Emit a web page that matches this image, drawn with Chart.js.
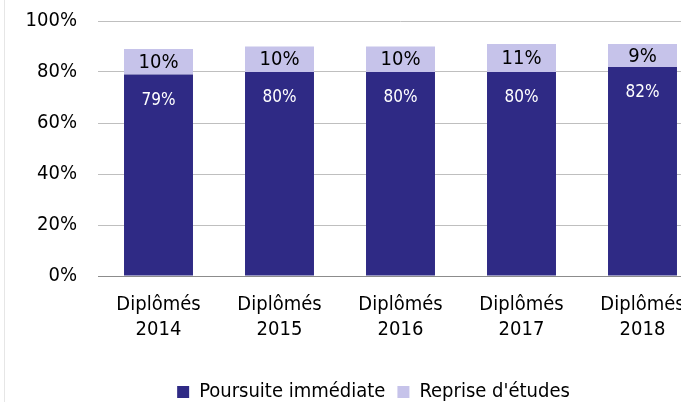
<!DOCTYPE html>
<html>
<head>
<meta charset="utf-8">
<script src="https://cdn.jsdelivr.net/npm/chart.js@4"></script>
<style>
  html, body { margin: 0; padding: 0; background: #ffffff; }
  #wrap { position: relative; width: 681px; height: 402px; overflow: hidden; background: #ffffff; }
  #border { position: absolute; left: 4px; top: 0; width: 1px; height: 402px; background: #e6e6e6; }
  canvas { position: absolute; left: 0; top: 0; }
</style>
</head>
<body>
<div id="wrap">
  <canvas id="c" width="747" height="412" style="width:747px;height:412px"></canvas>
  <div id="border"></div>
</div>
<script>
const categories = [["Diplômés", "2014"], ["Diplômés", "2015"], ["Diplômés", "2016"], ["Diplômés", "2017"], ["Diplômés", "2018"]];
const poursuite = [79, 80, 80, 80, 82];
const reprise = [10, 10, 10, 11, 9];
const seriesNames = ["Poursuite immédiate", "Reprise d'études"];
const yTicks = [0, 20, 40, 60, 80, 100];

const FONT = '"DejaVu Sans Condensed", "DejaVu Sans", sans-serif';

const labelPlugin = {
  id: 'barLabels',
  afterLayout(chart) {
    const lg = chart.legend;
    if (lg) { lg.left += 22; lg.right += 22; if (lg.legendHitBoxes) lg.legendHitBoxes.forEach(h => { h.left += 22; }); }
  },
  afterDatasetsDraw(chart) {
    const ctx = chart.ctx;
    ctx.save();
    ctx.textAlign = 'center';
    ctx.textBaseline = 'middle';
    chart.data.datasets.forEach((ds, i) => {
      const meta = chart.getDatasetMeta(i);
      meta.data.forEach((bar, j) => {
        const p = bar.getProps(['x', 'y', 'base'], true);
        const v = ds.data[j];
        if (i === 0) {
          ctx.fillStyle = '#ffffff';
          ctx.font = '17px ' + FONT;
          ctx.fillText(v + '%', p.x, p.y + 26);
        } else {
          ctx.fillStyle = '#000000';
          ctx.font = '20px ' + FONT;
          ctx.fillText(v + '%', p.x, (p.y + p.base) / 2 + 1);
        }
      });
    });
    ctx.restore();
  }
};

new Chart(document.getElementById('c'), {
  type: 'bar',
  data: {
    labels: categories,
    datasets: [
      { label: seriesNames[0], data: poursuite, backgroundColor: '#2f2a85', borderWidth: 0 },
      { label: seriesNames[1], data: reprise, backgroundColor: '#c6c3ea', borderWidth: 0 }
    ]
  },
  options: {
    responsive: false,
    animation: false,
    devicePixelRatio: 1,
    layout: { padding: { left: 0, right: 44, top: 21, bottom: 0 } },
    datasets: { bar: { categoryPercentage: 1, barPercentage: 0.57 } },
    scales: {
      x: {
        stacked: true,
        afterFit(scale) { scale.height += 12; },
        grid: { display: false, drawTicks: false },
        border: { display: true, color: '#8c8c8c', width: 1 },
        ticks: { color: '#000000', font: { family: FONT, size: 20, lineHeight: 1.25 }, padding: 16, maxRotation: 0, autoSkip: false }
      },
      y: {
        stacked: true,
        min: 0,
        max: 100,
        afterFit(scale) { scale.width = 98; scale.paddingTop = 0; scale.paddingBottom = 0; },
        afterBuildTicks(scale) { scale.ticks = yTicks.map(v => ({ value: v })); },
        grid: { color: '#bfbfbf', lineWidth: 1, drawTicks: false },
        border: { display: false },
        ticks: { color: '#000000', font: { family: FONT, size: 20 }, padding: 21, callback: v => v + '%' }
      }
    },
    plugins: {
      tooltip: { enabled: false },
      legend: {
        position: 'bottom',
        labels: {
          color: '#000000',
          font: { family: FONT, size: 20 },
          boxWidth: 12,
          boxHeight: 12,
          padding: 12,
          useBorderRadius: false
        }
      }
    }
  },
  plugins: [labelPlugin]
});
</script>
</body>
</html>
